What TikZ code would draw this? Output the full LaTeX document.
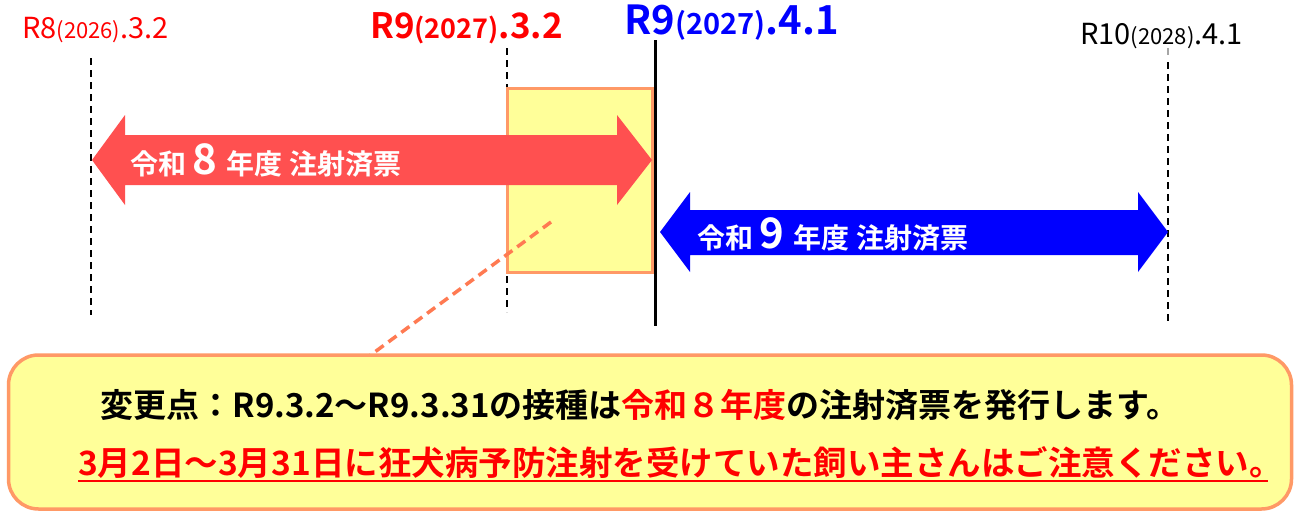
\documentclass[tikz,border=0pt]{standalone}
\usepackage{fontspec}
\setmainfont{Noto Sans CJK JP}
\newfontfamily\jb{Noto Sans CJK JP}[BoldFont={* Bold}]
\usetikzlibrary{shapes.arrows}
\definecolor{ored}{HTML}{FF5050}
\definecolor{yel}{HTML}{FFFF99}
\definecolor{org}{HTML}{FF9966}
\definecolor{dred}{HTML}{FF0000}
\begin{document}
\begin{tikzpicture}[x=1pt,y=-1pt,
 vl/.style={line width=2pt,dash pattern=on 7pt off 5pt},
 lab/.style={inner sep=0pt,font=\jb}]
\useasboundingbox (0,0) rectangle (1296,514);
\fill[white] (0,0) rectangle (1296,514);
\coordinate (a1) at (91,58); \coordinate (a2) at (91,315);
\coordinate (b1) at (507,48); \coordinate (b2) at (507,312);
\coordinate (c1) at (655,40); \coordinate (c2) at (655,326);
\coordinate (d1) at (1168,48); \coordinate (d2) at (1168,325);
\draw[vl] (a1)--(a2);
\draw[vl] (b1)--(b2);
\draw[vl,gray!70] (d1)--++(0,10);
\draw[vl] (1168,62)--(d2);
\node[draw=org,fill=yel,line width=3pt,minimum width=145pt,minimum height=184pt,inner sep=0pt] (box) at (580,180) {};
\draw[line width=3pt] (c1)--(c2);
\fill[ored] (92,160)--(125,115)--(125,135)--(617,135)--(617,115)--(652,160)--(617,205)--(617,185)--(125,185)--(125,205)--cycle;
\node[lab,text=white,anchor=west] (t8) at (130,160) {\fontsize{28}{30}\selectfont\bfseries 令和 \fontsize{42}{42}\selectfont 8 \fontsize{28}{30}\selectfont 年度 注射済票};
\fill[blue] (660,232)--(690,192)--(690,210)--(1138,210)--(1138,192)--(1168,232)--(1138,272)--(1138,255)--(690,255)--(690,272)--cycle;
\node[lab,text=white,anchor=west] (t9) at (697,234) {\fontsize{28}{30}\selectfont\bfseries 令和 \fontsize{42}{42}\selectfont 9 \fontsize{28}{30}\selectfont 年度 注射済票};
\node[lab,text=dred,anchor=west] (l1) at (22,30) {\fontsize{29}{30}\selectfont R8\fontsize{22}{24}\selectfont(2026)\fontsize{29}{30}\selectfont.3.2};
\node[lab,text=dred,anchor=west] (l2) at (370,28) {\bfseries\fontsize{35}{36}\selectfont R9\fontsize{27}{28}\selectfont(2027)\fontsize{35}{36}\selectfont.3.2};
\node[lab,text=blue,anchor=west] (l3) at (624,23) {\bfseries\fontsize{40}{42}\selectfont R9\fontsize{29}{30}\selectfont(2027)\fontsize{40}{42}\selectfont.4.1};
\node[lab,anchor=west] (l4) at (1080,36) {\fontsize{29}{30}\selectfont R10\fontsize{22}{24}\selectfont(2028)\fontsize{29}{30}\selectfont.4.1};
\coordinate (p1) at (551,222); \coordinate (p2) at (368,357);
\draw[org!80!red,line width=3.5pt,dash pattern=on 10pt off 6pt] (p1)--(p2);
\node[draw=org,fill=yel,line width=3.5pt,rounded corners=30pt,minimum width=1283pt,minimum height=154pt,inner sep=0pt] (call) at (650,432) {};
\node[lab,anchor=center] (m1) at (640,405) {\bfseries\fontsize{33}{36}\selectfont 変更点：R9.3.2～R9.3.31の接種は\textcolor{dred}{令和８年度}の注射済票を発行します。};
\node[lab,anchor=west,text=dred] (m2) at (78,463) {\bfseries\fontsize{33.5}{36}\selectfont 3月2日～3月31日に狂犬病予防注射を受けていた飼い主さんはご注意ください。};
\draw[dred,line width=1.5pt] (78,481)--(1268,481);
\end{tikzpicture}
\end{document}
